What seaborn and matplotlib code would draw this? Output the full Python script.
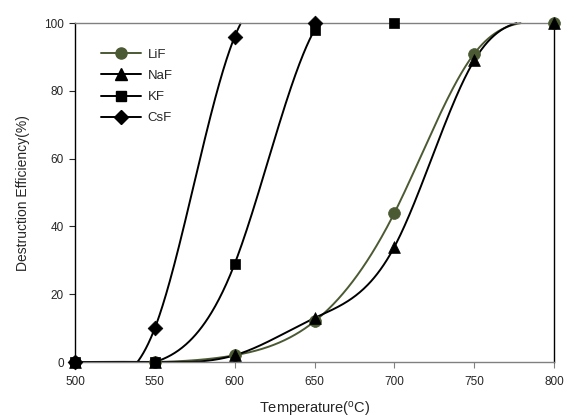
import numpy as np
import pandas as pd
import matplotlib
matplotlib.use("Agg")
import matplotlib.pyplot as plt
from matplotlib.lines import Line2D
import seaborn as sns

# --- data ---
temps = [500, 550, 600, 650, 700, 750, 800]
lif = [0, 0, 2, 12, 44, 91, 100]
naf = [0, 0, 2, 13, 34, 89, 100]
kf_temps = [500, 550, 600, 650, 700]
kf = [0, 0, 29, 98, 100]
csf_temps = [500, 550, 600, 650]
csf = [0, 10, 96, 100]

series = [
    ("LiF", temps, lif, "o", "#4b5a33", 8.5),
    ("NaF", temps, naf, "^", "black", 8.5),
    ("KF", kf_temps, kf, "s", "black", 7.5),
    ("CsF", csf_temps, csf, "D", "black", 7.5),
]


def natural_spline(x, y, n=600):
    # natural cubic spline through the measured points (smooth curve like the original)
    x = np.asarray(x, float)
    y = np.asarray(y, float)
    k = len(x)
    h = np.diff(x)
    A = np.zeros((k, k))
    b = np.zeros(k)
    A[0, 0] = A[-1, -1] = 1
    for i in range(1, k - 1):
        A[i, i - 1] = h[i - 1]
        A[i, i] = 2 * (h[i - 1] + h[i])
        A[i, i + 1] = h[i]
        b[i] = 6 * ((y[i + 1] - y[i]) / h[i] - (y[i] - y[i - 1]) / h[i - 1])
    M = np.linalg.solve(A, b)
    xs = np.linspace(x[0], x[-1], n)
    idx = np.clip(np.searchsorted(x, xs) - 1, 0, k - 2)
    x0, x1 = x[idx], x[idx + 1]
    hh = x1 - x0
    t0 = x1 - xs
    t1 = xs - x0
    ys = (M[idx] * t0 ** 3 + M[idx + 1] * t1 ** 3) / (6 * hh) \
        + (y[idx] / hh - M[idx] * hh / 6) * t0 + (y[idx + 1] / hh - M[idx + 1] * hh / 6) * t1
    ys = np.maximum(ys, 0)
    ys[ys > 100] = np.nan
    return xs, ys


sns.set_theme(style="ticks")
plt.rcParams["font.family"] = ["Liberation Sans", "DejaVu Sans"]

fig = plt.figure(figsize=(5.66, 4.2), dpi=100)
ax = fig.add_axes([0.1325, 0.138, 0.8465, 0.807])

handles = []
for name, xv, yv, mk, col, ms in series:
    xs, ys = natural_spline(xv, yv)
    ax.plot(xs, ys, color=col, lw=1.4, clip_on=False, zorder=2)
    df = pd.DataFrame({"t": xv, "e": yv})
    sns.scatterplot(data=df, x="t", y="e", marker=mk, color=col, s=ms ** 2,
                    edgecolor=col, linewidth=0.5, ax=ax, clip_on=False, zorder=3)
    handles.append(Line2D([0], [0], color=col, lw=1.4, marker=mk, markersize=ms - 0.5,
                          markerfacecolor=col, markeredgecolor=col, label=name))

ax.set_xlim(500, 800)
ax.set_ylim(0, 100)
ax.set_xticks([500, 550, 600, 650, 700, 750, 800])
ax.set_yticks([0, 20, 40, 60, 80, 100])
ax.set_xlabel("Temperature($\\mathregular{^{o}}$C)", fontsize=10.5, labelpad=9)
ax.set_ylabel("Destruction Efficiency(%)", fontsize=10, labelpad=10)
ax.tick_params(axis="both", labelsize=8.5, direction="out", length=4, width=0.8, pad=4)
ax.tick_params(axis="x", color="#808080", pad=6)

for side in ["left", "right"]:
    ax.spines[side].set_color("black")
    ax.spines[side].set_linewidth(1.0)
for side in ["top", "bottom"]:
    ax.spines[side].set_color("#808080")
    ax.spines[side].set_linewidth(1.0)
ax.spines["right"].set_visible(True)
ax.spines["top"].set_visible(True)

ax.legend(handles=handles, loc="upper left", bbox_to_anchor=(0.03, 0.96), frameon=False,
          fontsize=9.5, handlelength=3.0, labelspacing=0.68, handletextpad=0.5)

fig.savefig("out.png", dpi=100)
